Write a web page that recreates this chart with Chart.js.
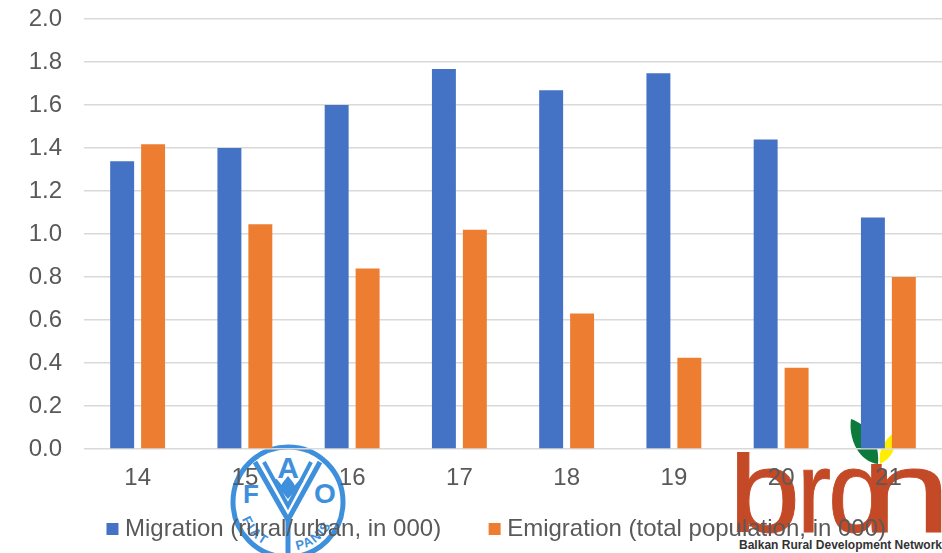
<!DOCTYPE html>
<html lang="en">
<head>
    <meta charset="UTF-8">
    <title>Migration and emigration</title>
    <script src="https://cdn.jsdelivr.net/npm/chart.js"></script>
    <style>
        body { margin: 0; background: #fff; }
        #wrap { position: relative; width: 942px; height: 553px; overflow: hidden; }
        #logos, #chart { position: absolute; left: 0; top: 0; }
    </style>
</head>
<body>
<div id="wrap">
    <!-- logos sit under the transparent canvas, the bars and labels cover them -->
    <svg id="logos" width="942" height="553" viewBox="0 0 942 553">
        <g fill="none" stroke="#3f90dc">
            <circle cx="288" cy="502" r="55" stroke-width="5"/>
            <path d="M255 462 L288 520 L320 462" stroke-width="5"/>
            <path d="M264 462 L288 506 L311 462" stroke-width="4"/>
            <path d="M275 480 L288 496 L302 480" stroke-width="4"/>
            <path d="M288 518 L288 553" stroke-width="5"/>
            <path id="fiat" d="M242 519 A49 49 0 0 0 279 550" stroke="none"/>
            <path id="panis" d="M297 550 A49 49 0 0 0 334 519" stroke="none"/>
        </g>
        <g fill="#3f90dc" font-family="Liberation Sans" font-weight="bold">
            <path d="M288 476 C292 481 295 484 295 487 A7 7 0 0 1 281 487 C281 484 284 481 288 476 Z"/>
            <text x="288" y="478" font-size="30" text-anchor="middle">A</text>
            <text x="251" y="503" font-size="26" text-anchor="middle">F</text>
            <text x="325" y="503" font-size="28" text-anchor="middle">O</text>
            <text font-size="13" letter-spacing="2"><textPath href="#fiat">FIAT</textPath></text>
            <text font-size="13" letter-spacing="1"><textPath href="#panis">PANIS</textPath></text>
        </g>
        <g font-family="Liberation Sans" font-size="128" fill="#c44a27" stroke="#c44a27" stroke-width="1">
            <text transform="translate(729,532) scale(1,0.91)">b</text>
            <text transform="translate(797,532) scale(0.8,0.91)">r</text>
            <text transform="translate(828,532) scale(0.85,0.91)">d</text>
            <text transform="translate(862,532) scale(1.25,0.91)">n</text>
        </g>
        <rect x="732" y="440" width="24" height="12" fill="#fff"/>
        <rect x="850" y="440" width="46" height="24" fill="#fff"/>
        <path d="M851 419 C866 424 880 440 878 464 C860 462 848 440 851 419 Z" fill="#0b7a3b"/>
        <path d="M880 464 C878 450 884 440 895 432 C897 448 892 458 880 464 Z" fill="#ffee00"/>
        <text x="739" y="549" font-family="Liberation Sans" font-size="12" font-weight="bold" fill="#333"
              textLength="203" lengthAdjust="spacingAndGlyphs">Balkan Rural Development Network</text>
    </svg>
    <canvas id="chart" width="942" height="553"></canvas>
</div>

<script>
    const years = ['14', '15', '16', '17', '18', '19', '20', '21'];
    const migration = [1.338, 1.40, 1.60, 1.767, 1.669, 1.748, 1.44, 1.077];
    const emigration = [1.417, 1.045, 0.84, 1.02, 0.63, 0.424, 0.378, 0.80];

    const textFont = { family: "'Liberation Sans', Arial, sans-serif", size: 24 };

    // legend in the picture is off centre and close to the ticks, move it after layout
    const moveLegend = {
        id: 'moveLegend',
        afterLayout(chart) {
            const legend = chart.legend;
            legend.left += 28;
            legend.right += 28;
            legend.top = 517 - 53;
        }
    };

    new Chart(document.getElementById('chart'), {
        type: 'bar',
        data: {
            labels: years,
            datasets: [
                { label: 'Migration (rural/urban, in 000)', data: migration, backgroundColor: '#4472c4' },
                { label: 'Emigration (total population, in 000)', data: emigration, backgroundColor: '#ed7d31' }
            ]
        },
        options: {
            responsive: false,
            animation: false,
            categoryPercentage: 0.577,
            barPercentage: 0.774,
            layout: { padding: { left: 0, right: 0, top: 19, bottom: -39 } },
            scales: {
                x: {
                    grid: { display: false },
                    border: { display: false },
                    afterFit(scale) { scale.height = 56; },
                    ticks: { color: '#595959', font: textFont, padding: 7, maxRotation: 0 }
                },
                y: {
                    min: 0,
                    max: 2,
                    afterFit(scale) {
                        scale.width = 84;
                        scale.paddingTop = 0;
                        scale.paddingBottom = 0;
                    },
                    grid: { color: '#d9d9d9', lineWidth: 1.5, drawTicks: false },
                    border: { display: false },
                    ticks: {
                        color: '#595959',
                        font: textFont,
                        stepSize: 0.2,
                        padding: 22,
                        callback: v => v.toFixed(1)
                    }
                }
            },
            plugins: {
                tooltip: { enabled: false },
                legend: {
                    position: 'bottom',
                    labels: {
                        color: '#595959',
                        font: textFont,
                        usePointStyle: true,
                        pointStyle: 'rect',
                        boxWidth: 1,
                        boxHeight: 12,
                        padding: 53
                    }
                }
            }
        },
        plugins: [moveLegend]
    });
</script>
</body>
</html>
